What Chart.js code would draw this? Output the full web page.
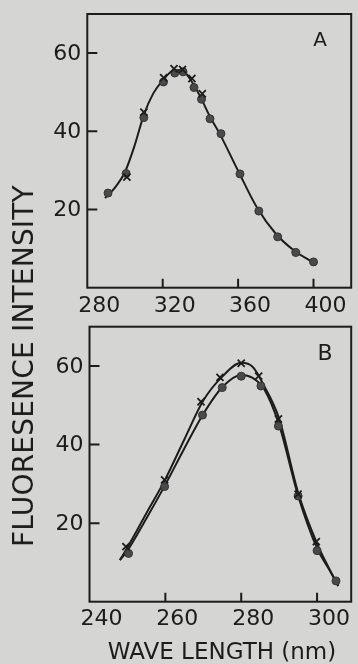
<!DOCTYPE html>
<html>
<head>
<meta charset="utf-8">
<script src="https://cdn.jsdelivr.net/npm/chart.js@4/dist/chart.umd.min.js"></script>
<style>
  html, body { margin:0; padding:0; width:358px; height:664px; overflow:hidden; background:#d5d5d3; }
  canvas { position:absolute; left:0; }
  #cA { top:0; }
  #cB { top:316px; }
  .txt { position:absolute; font-family:"DejaVu Sans", sans-serif; color:#1c1c1c; line-height:1; white-space:nowrap; transform:translate(-50%,-50%); }
  #ytitle { left:24px; top:366px; font-size:28px; letter-spacing:0.2px; transform:translate(-50%,-50%) rotate(-90deg); }
  #xtitle { left:222px; top:651px; font-size:23px; }
  #letA { left:320px; top:39px; font-size:20px; }
  #letB { left:325px; top:353px; font-size:22px; }
</style>
</head>
<body>
<canvas id="cA" width="358" height="320"></canvas>
<canvas id="cB" width="358" height="348"></canvas>
<div class="txt" id="ytitle">FLUORESENCE INTENSITY</div>
<div class="txt" id="xtitle">WAVE LENGTH (nm)</div>
<div class="txt" id="letA">A</div>
<div class="txt" id="letB">B</div>
<script>
// ---------- Panel A data ----------
const xTicksA = [280, 320, 360, 400];
const yTicks = [20, 40, 60];
const waveCirclesA = [291, 300.6, 310, 320.4, 326.4, 330.8, 336.6, 340.6, 345.1, 350.9, 361, 371, 381, 390.6, 400];
const circlesA     = [24.2, 29.2, 43.5, 52.6, 54.9, 55.2, 51.2, 48.2, 43.2, 39.4, 29.1, 19.6, 13.0, 9.0, 6.6];
const waveCrossesA = [301, 310, 320.5, 326, 330.5, 335.5, 341];
const crossesA     = [28.3, 44.9, 53.7, 56.0, 55.8, 53.5, 49.6];
const curveAx = [289.4, 295, 300, 305, 310, 315, 320, 325, 330, 335, 340, 345, 350, 360, 370, 380, 390, 401];
const curveAy = [22.9, 25.8, 29.6, 36.2, 44.2, 49.7, 53.0, 55.4, 55.7, 53.0, 48.8, 43.8, 39.6, 29.9, 20.5, 13.8, 9.4, 6.2];

// ---------- Panel B data ----------
const xTicksB = [240, 260, 280, 300];
const waveCrossesB = [249.6, 259.8, 269.4, 274.4, 280, 284.6, 289.8, 295, 299.8];
const crossesB     = [14.0, 31.0, 50.9, 57.1, 60.7, 57.4, 46.5, 27.4, 15.3];
const waveCirclesB = [250.3, 259.8, 269.8, 275, 280, 285.2, 289.8, 295, 300, 305];
const circlesB     = [12.3, 29.3, 47.5, 54.5, 57.4, 54.9, 44.7, 26.9, 13.0, 5.3];
const curveBupperX = [248, 250, 255, 260, 265, 270, 275, 280, 283, 286, 290, 295, 300, 303, 305.6];
const curveBupperY = [10.6, 13.8, 22.5, 31.2, 41.3, 51.2, 57.3, 60.8, 59.8, 55.0, 46.6, 27.8, 14.8, 8.8, 4.0];
const curveBlowerX = [248, 250, 255, 260, 265, 270, 275, 280, 283, 286, 290, 295, 300, 303, 305.6];
const curveBlowerY = [10.6, 13.0, 21.2, 29.8, 39.0, 47.8, 54.6, 57.7, 57.0, 54.2, 45.0, 27.0, 13.6, 8.5, 4.0];

const INK = '#1c1c1c';
const FONT = { family: '"DejaVu Sans", sans-serif', size: 22 };

function pts(xs, ys) { return xs.map((x, i) => ({ x: x, y: ys[i] })); }

const framePlugin = {
  id: 'frame',
  afterDatasetsDraw(chart) {
    const { ctx, chartArea: a } = chart;
    const xs = chart.scales.x, ys = chart.scales.y;
    ctx.save();
    ctx.strokeStyle = INK;
    ctx.lineWidth = 2;
    ctx.strokeRect(a.left, a.top, a.right - a.left, a.bottom - a.top);
    ctx.beginPath();
    xs.ticks.forEach(t => {
      if (t.value === xs.min) return;
      const px = xs.getPixelForValue(t.value);
      ctx.moveTo(px, a.bottom);
      ctx.lineTo(px, a.bottom - 9);
    });
    ys.ticks.forEach(t => {
      const py = ys.getPixelForValue(t.value);
      ctx.moveTo(a.left, py);
      ctx.lineTo(a.left + 10, py);
    });
    ctx.stroke();
    ctx.restore();
  }
};

function curveDs(data) {
  return { data: data, showLine: true, pointRadius: 0, borderColor: INK, borderWidth: 2,
           cubicInterpolationMode: 'monotone', fill: false, order: 3 };
}
function circleDs(data) {
  return { data: data, showLine: false, pointStyle: 'circle', pointRadius: 4,
           backgroundColor: '#4a4a4a', borderColor: '#333', borderWidth: 1, order: 2 };
}
function crossDs(data) {
  return { data: data, showLine: false, pointStyle: 'crossRot', pointRadius: 5,
           borderColor: INK, borderWidth: 1.8, order: 1 };
}
function zeroPad(s) { s.paddingLeft = 0; s.paddingRight = 0; s.paddingTop = 0; s.paddingBottom = 0; }

function makeChart(id, cfg) {
  return new Chart(document.getElementById(id), {
    type: 'scatter',
    data: { datasets: cfg.datasets },
    options: {
      responsive: false, animation: false, devicePixelRatio: 1,
      layout: { padding: { top: cfg.padTop, right: cfg.padRight, left: 0, bottom: 0 } },
      plugins: { legend: { display: false }, tooltip: { enabled: false } },
      scales: {
        x: {
          type: 'linear', min: cfg.xMin, max: cfg.xMax,
          afterBuildTicks: s => { s.ticks = cfg.xTicks.map(v => ({ value: v })); },
          afterFit: s => { s.height = cfg.xHeight; zeroPad(s); },
          grid: { display: false, drawTicks: false },
          border: { display: false },
          ticks: { font: FONT, color: INK, padding: cfg.xPad, labelOffset: 12, maxRotation: 0, autoSkip: false }
        },
        y: {
          type: 'linear', min: 0, max: 70,
          afterBuildTicks: s => { s.ticks = yTicks.map(v => ({ value: v })); },
          afterFit: s => { s.width = cfg.yWidth; zeroPad(s); },
          grid: { display: false, drawTicks: false },
          border: { display: false },
          ticks: { font: FONT, color: INK, padding: 6, labelOffset: 1 }
        }
      }
    },
    plugins: [framePlugin]
  });
}

makeChart('cA', {
  datasets: [curveDs(pts(curveAx, curveAy)), circleDs(pts(waveCirclesA, circlesA)), crossDs(pts(waveCrossesA, crossesA))],
  xMin: 280, xMax: 420, xTicks: xTicksA,
  padTop: 14, padRight: 2, yWidth: 87.3, xHeight: 32.3, xPad: 5
});

makeChart('cB', {
  datasets: [curveDs(pts(curveBupperX, curveBupperY)), curveDs(pts(curveBlowerX, curveBlowerY)),
             circleDs(pts(waveCirclesB, circlesB)), crossDs(pts(waveCrossesB, crossesB))],
  xMin: 240, xMax: 309, xTicks: xTicksB,
  padTop: 10.7, padRight: 1.5, yWidth: 89.5, xHeight: 62.3, xPad: 4
});
</script>
</body>
</html>
